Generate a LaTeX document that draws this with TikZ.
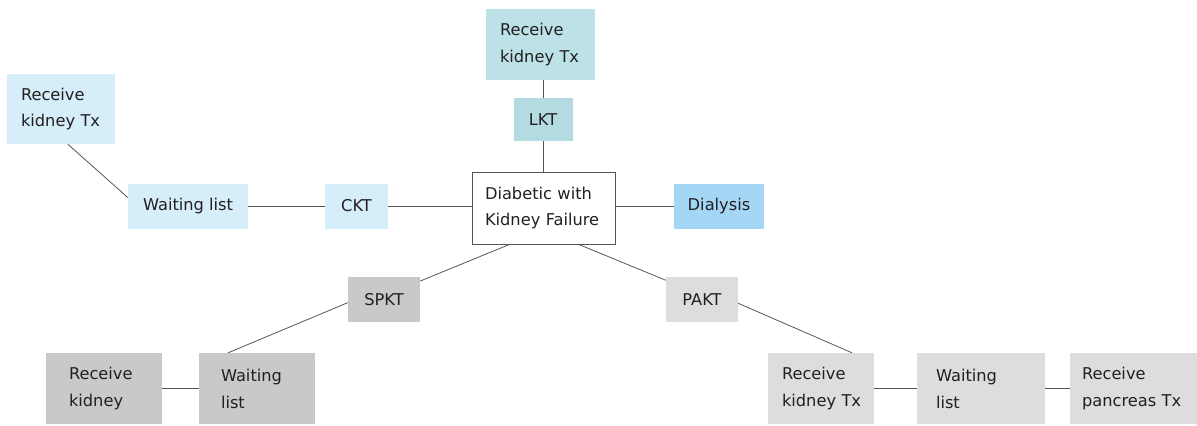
\documentclass[tikz,border=0pt]{standalone}
\usepackage{fontspec}
\setmainfont{DejaVu Sans}
\usepackage{tikz}
\usetikzlibrary{positioning}
\definecolor{tealbox}{HTML}{BCE2E8}
\definecolor{lktbox}{HTML}{B4DBE1}
\definecolor{paleblue}{HTML}{D6EDFA}
\definecolor{dialblue}{HTML}{A3D7F5}
\definecolor{darkgrey}{HTML}{C9C9C9}
\definecolor{lightgrey}{HTML}{DDDDDD}
\definecolor{inkline}{HTML}{555555}
\definecolor{inktext}{HTML}{231F20}

\begin{document}
\begin{tikzpicture}[x=1bp, y=1bp,
  box/.style={rectangle, inner sep=0pt, text=inktext, font=\fontsize{16.3}{27}\selectfont},
  twoline/.style={box, align=left},
  link/.style={draw=inkline, line width=0.8bp}
]
\useasboundingbox (0,0) rectangle (1197,-425);

\node[twoline, fill=tealbox, minimum height=71bp, inner xsep=14bp, text width=81bp] (rkt) at (540.5,-44.5) {Receive\\kidney~Tx};
\node[box, fill=lktbox, minimum width=59bp, minimum height=43bp] (lkt) at (543,-119.5) {LKT};
\node[twoline, fill=white, draw=inkline, line width=0.8bp, minimum height=72bp, inner xsep=13bp, text width=117bp] (dkf) at (543.5,-208) {Diabetic~with\\Kidney~Failure};
\node[box, fill=dialblue, minimum width=90bp, minimum height=45bp] (dial) at (719,-206) {Dialysis};
\node[box, fill=paleblue, minimum width=63bp, minimum height=45bp] (ckt) at (356.5,-206) {CKT};
\node[box, fill=paleblue, minimum width=120bp, minimum height=45bp] (wll) at (188,-206) {Waiting list};
\node[twoline, fill=paleblue, minimum height=70bp, inner xsep=14bp, text width=80bp] (rkl) at (61,-109) {Receive\\kidney~Tx};
\node[box, fill=darkgrey, minimum width=72bp, minimum height=45bp] (spkt) at (384,-299.5) {SPKT};
\node[twoline, fill=darkgrey, minimum height=71bp, inner xsep=23bp, text width=70bp] (rkb) at (104,-388.5) {Receive\\kidney};
\node[twoline, fill=darkgrey, minimum height=71bp, inner xsep=22bp, text width=72bp] (wlb) at (257,-388.5) {Waiting\\list};
\node[box, fill=lightgrey, minimum width=72bp, minimum height=45bp] (pakt) at (702,-299.5) {PAKT};
\node[twoline, fill=lightgrey, minimum height=71bp, inner xsep=14bp, text width=78bp] (rkp) at (821,-388.5) {Receive\\kidney~Tx};
\node[twoline, fill=lightgrey, minimum height=71bp, inner xsep=19bp, text width=90bp] (wlp) at (981,-388.5) {Waiting\\list};
\node[twoline, fill=lightgrey, minimum height=71bp, inner xsep=12bp, text width=103bp] (rpt) at (1133.5,-388.5) {Receive\\pancreas~Tx};

\draw[link] (rkt.south -| lkt) -- (lkt);
\draw[link] (lkt) -- (lkt |- dkf.north);
\draw[link] (dkf.east |- dial) -- (dial);
\draw[link] (dkf.west |- ckt) -- (ckt);
\draw[link] (ckt) -- (wll);
\draw[link] (rkl.-79) -- (wll.172);
\draw[link] (dkf.-133) -- (spkt.27);
\draw[link] (spkt.185) -- (wlb.129);
\draw[link] (rkb) -- (wlb);
\draw[link] (dkf.-46) -- (pakt.152);
\draw[link] (pakt.-6) -- (rkp.49);
\draw[link] (rkp) -- (wlp);
\draw[link] (wlp) -- (rpt);

\end{tikzpicture}
\end{document}
